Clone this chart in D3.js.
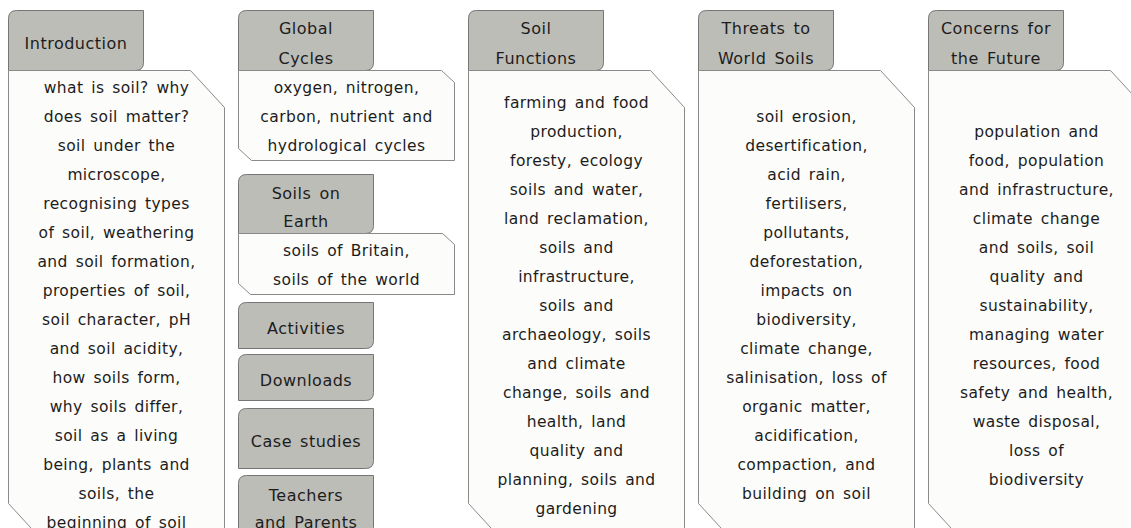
<!DOCTYPE html>
<html>
<head>
<meta charset="utf-8">
<script src="https://cdn.jsdelivr.net/npm/d3@7"></script>
<style>
  body { margin: 0; background: #fff; }
  text { font-family: "DejaVu Sans", sans-serif; fill: #1c1c1c; }
</style>
</head>
<body>
<div id="chart"></div>
<script>
// Data
const columnIds = ["intro", "cycles", "functions", "threats", "concerns"]
const tabLabels = [
  ["Introduction"],
  ["Global", "Cycles"],
  ["Soil", "Functions"],
  ["Threats to", "World Soils"],
  ["Concerns for", "the Future"]
]
const introText = [
  "what is soil? why", "does soil matter?", "soil under the", "microscope,",
  "recognising types", "of soil, weathering", "and soil formation,", "properties of soil,",
  "soil character, pH", "and soil acidity,", "how soils form,", "why soils differ,",
  "soil as a living", "being, plants and", "soils, the", "beginning of soil"
]
const functionsText = [
  "farming and food", "production,", "foresty, ecology", "soils and water,",
  "land reclamation,", "soils and", "infrastructure,", "soils and",
  "archaeology, soils", "and climate", "change, soils and", "health, land",
  "quality and", "planning, soils and", "gardening"
]
const threatsText = [
  "soil erosion,", "desertification,", "acid rain,", "fertilisers,",
  "pollutants,", "deforestation,", "impacts on", "biodiversity,",
  "climate change,", "salinisation, loss of", "organic matter,", "acidification,",
  "compaction, and", "building on soil"
]
const concernsText = [
  "population and", "food, population", "and infrastructure,", "climate change",
  "and soils, soil", "quality and", "sustainability,", "managing water",
  "resources, food", "safety and health,", "waste disposal,", "loss of",
  "biodiversity"
]
const cyclesText = ["oxygen, nitrogen,", "carbon, nutrient and", "hydrological cycles"]
const earthTab = ["Soils on", "Earth"]
const earthText = ["soils of Britain,", "soils of the world"]
const sideTabs = [["Activities"], ["Downloads"], ["Case studies"], ["Teachers", "and Parents"]]

// Dimensions
const width = 1131
const height = 528
const tabWidth = 135
const tabTop = 10
const tabHeight = 60
const boxTop = tabTop + tabHeight
const boxBottom = 540
const lineHeight = 29
const tabFill = "#bdbdb8"
const tabStroke = "#767676"
const boxFill = "#fcfcfa"
const boxStroke = "#8a8a8a"

const svg = d3.select("#chart")
  .append("svg")
    .attr("width", width)
    .attr("height", height)
  .append("g")
    .attr("transform", "translate(0.5,0.5)")

// Column scale
const xScale = d3.scaleBand()
    .domain(columnIds)
    .range([8, 8 + 230 * columnIds.length - 14])
    .paddingInner(14 / 230)
const boxWidth = Math.round(xScale.bandwidth())

function tabPath(x, y, w, h) {
  const r = 8
  const p = d3.path()
  p.moveTo(x, y + h)
  p.lineTo(x, y + r)
  p.quadraticCurveTo(x, y, x + r, y)
  p.lineTo(x + w, y)
  p.lineTo(x + w, y + h - r)
  p.quadraticCurveTo(x + w, y + h, x + w - r, y + h)
  p.closePath()
  return p.toString()
}

function boxPath(x, y, w, h, cw, ch) {
  const p = d3.path()
  p.moveTo(x, y)
  p.lineTo(x + w - cw, y)
  p.lineTo(x + w, y + ch)
  p.lineTo(x + w, y + h)
  p.lineTo(x + cw, y + h)
  p.lineTo(x, y + h - ch)
  p.closePath()
  return p.toString()
}

function drawTab(x, y, h, lines, spacing) {
  svg.append("path")
    .attr("d", tabPath(x, y, tabWidth, h))
    .attr("fill", tabFill)
    .attr("stroke", tabStroke)
  drawLines(x + tabWidth / 2, y + h / 2 + 3, lines, spacing, 16, 0.5)
}

function drawBox(x, y, h, lines, cw, ch, centerY) {
  svg.append("path")
    .attr("d", boxPath(x, y, boxWidth, h, cw, ch))
    .attr("fill", boxFill)
    .attr("stroke", boxStroke)
  drawLines(x + boxWidth / 2, centerY, lines, lineHeight, 15.5, 0.4)
}

function drawLines(cx, cy, lines, spacing, size, tracking) {
  const first = cy - (lines.length - 1) * spacing / 2
  svg.append("g")
    .selectAll("text")
    .data(lines)
    .enter().append("text")
      .attr("x", cx)
      .attr("y", function(d, i) { return first + i * spacing })
      .attr("dy", "0.35em")
      .attr("text-anchor", "middle")
      .style("font-size", size + "px")
      .style("letter-spacing", tracking + "px")
      .style("word-spacing", "2.5px")
      .text(function(d) { return d })
}

// Main columns with tall boxes
const bigBoxes = {intro: introText, functions: functionsText, threats: threatsText, concerns: concernsText}
columnIds.forEach(function(id, i) {
  const x = Math.round(xScale(id))
  drawTab(x, tabTop, tabHeight, tabLabels[i], 30)
  if (bigBoxes[id]) {
    drawBox(x, boxTop, boxBottom - boxTop, bigBoxes[id], 34, 37, 305)
  }
})

// Second column stack
const cx = Math.round(xScale("cycles"))
drawBox(cx, boxTop, 90, cyclesText, 13, 12, boxTop + 46)
drawTab(cx, 174, 59, earthTab, 28)
drawBox(cx, 233, 61, earthText, 12, 11, 233 + 32)

const sideLayout = [
  {y: 302, h: 46},
  {y: 354, h: 46},
  {y: 408, h: 60},
  {y: 475, h: 60}
]
sideTabs.forEach(function(lines, i) {
  drawTab(cx, sideLayout[i].y, sideLayout[i].h, lines, 27)
})
</script>
</body>
</html>
